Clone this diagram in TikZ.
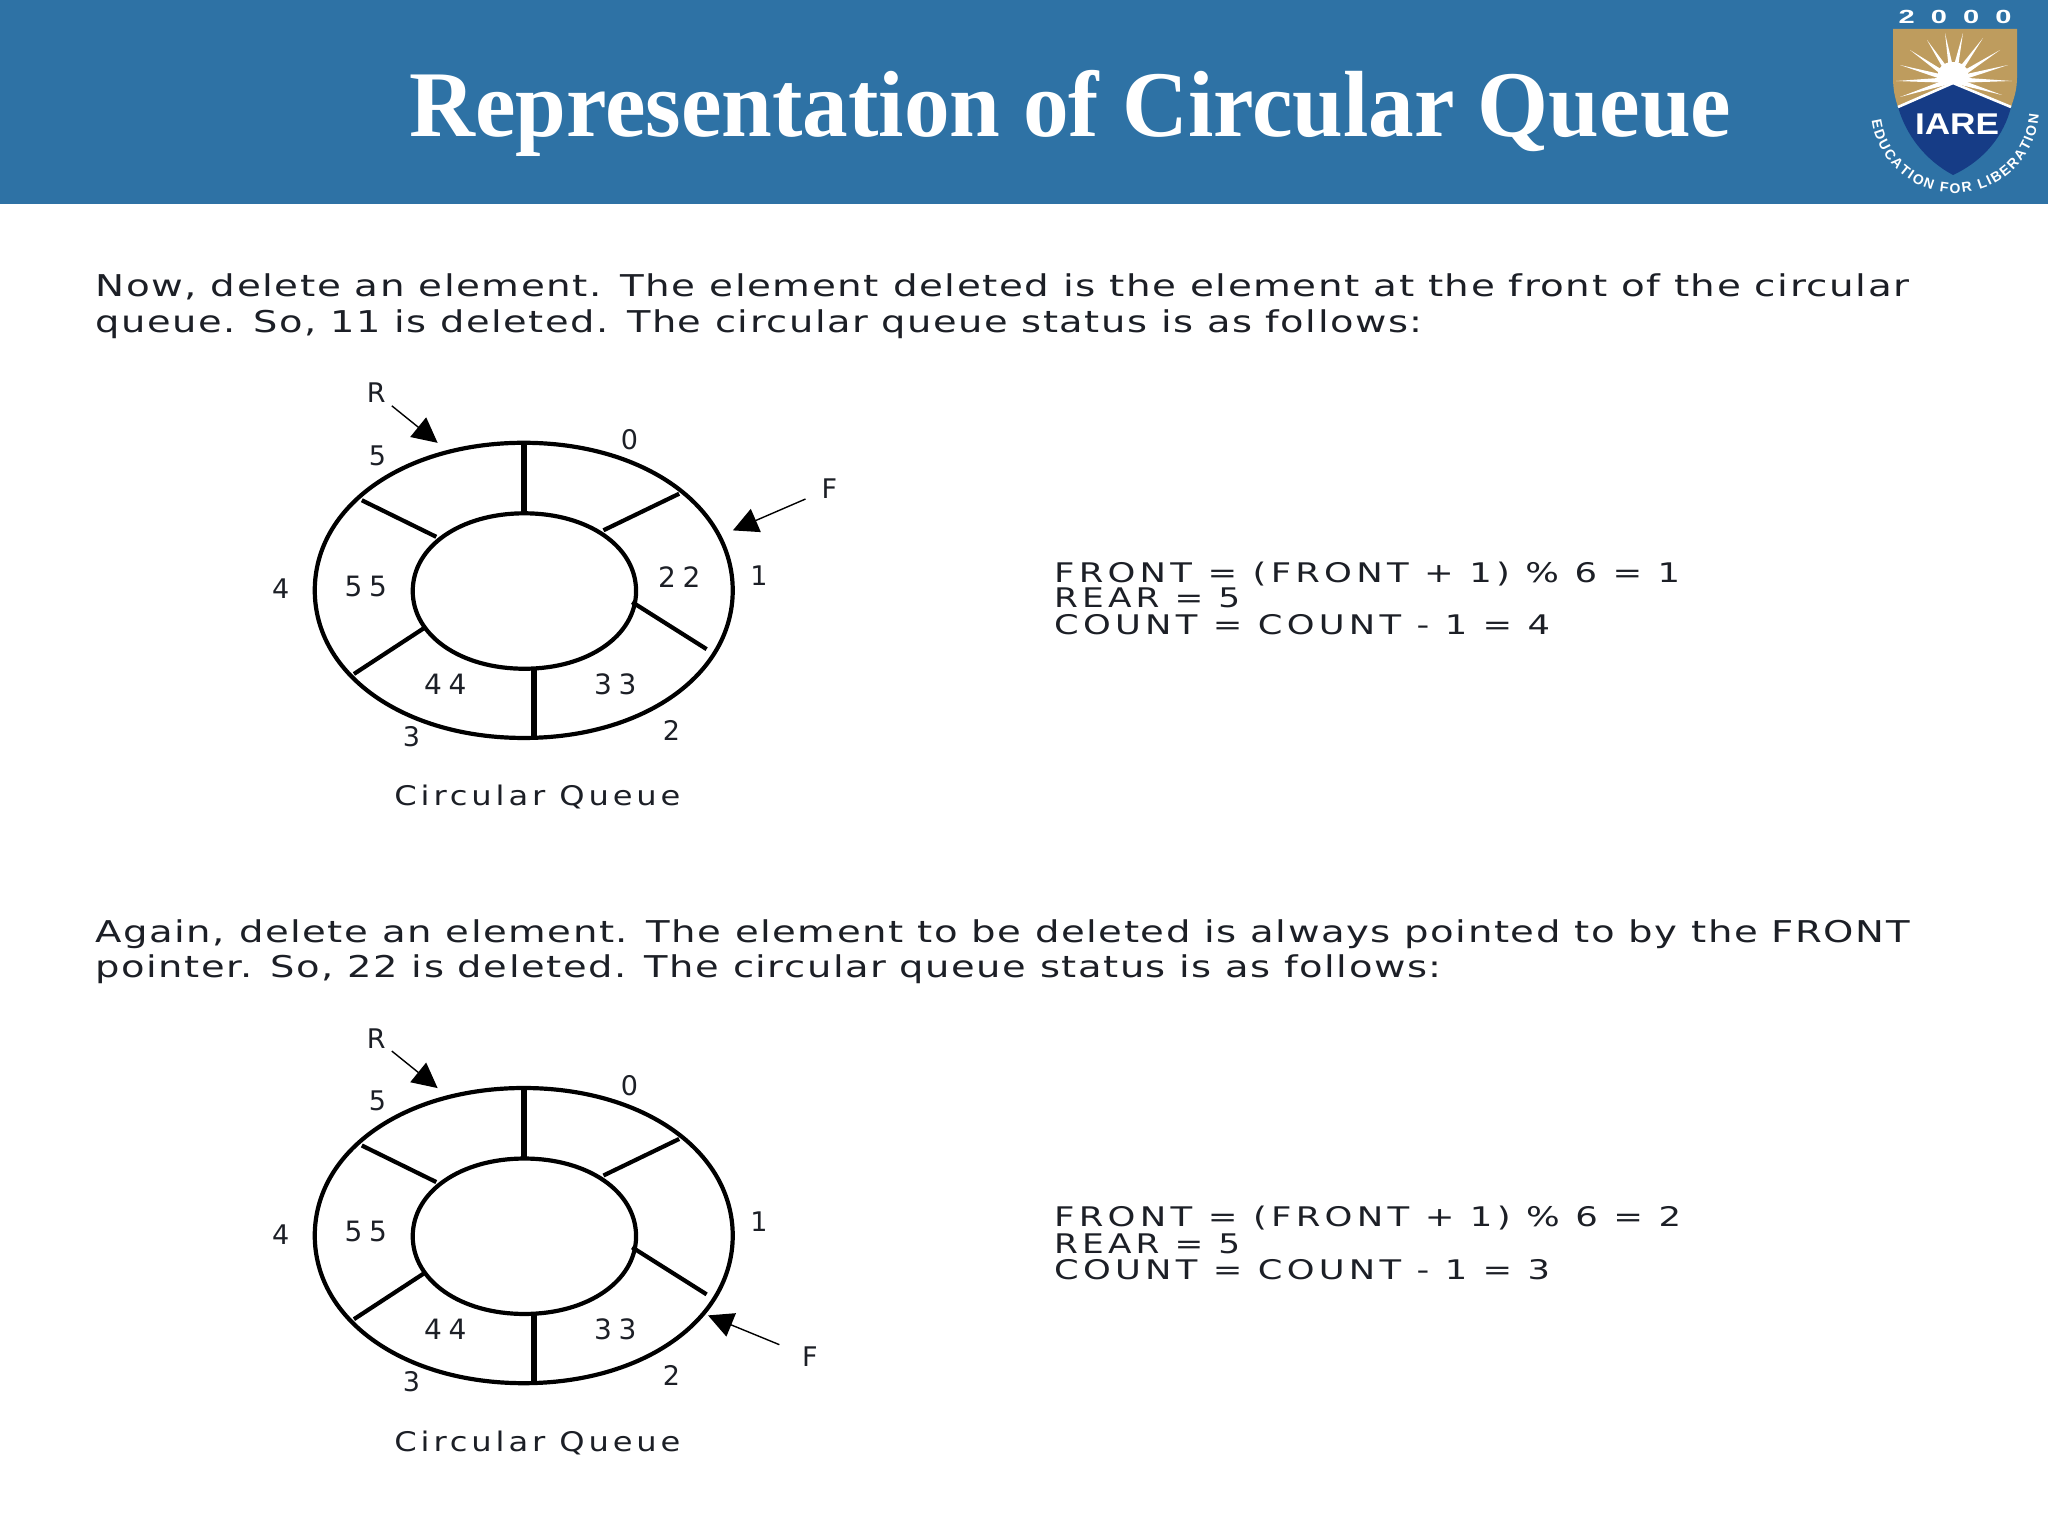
\documentclass[tikz,border=0pt]{standalone}
\usepackage{fontspec}
\usepackage{graphicx}
\usetikzlibrary{arrows.meta,calc,decorations.text}
\setmainfont{DejaVu Sans}
\newfontfamily\serifbold[Ligatures=TeX]{Liberation Serif}
\newfontfamily\logosans{Liberation Sans}
\newfontfamily\spacedfont[LetterSpace=24]{DejaVu Sans}
\newfontfamily\parafont[LetterSpace=4]{DejaVu Sans}
\newfontfamily\calcfont[LetterSpace=12,WordSpace=2.1]{DejaVu Sans}
\newfontfamily\capfont[LetterSpace=12,WordSpace=1.0]{DejaVu Sans}
\definecolor{banner}{HTML}{2E72A5}
\definecolor{gold}{HTML}{BE9C5E}
\definecolor{shieldblue}{HTML}{163C86}
\definecolor{ink}{HTML}{1C1F26}
\newcommand{\wline}[2]{\resizebox{#1pt}{\height}{#2}}
\tikzset{
  para/.style={anchor=base west,inner sep=0pt,text=ink,font=\fontsize{30}{30}\parafont},
  calc line/.style={anchor=base west,inner sep=0pt,text=ink,font=\fontsize{27}{27}\calcfont},
  ringlabel/.style={inner sep=0pt,text=ink,font=\fontsize{27}{27}\selectfont},
  vallabel/.style={inner sep=0pt,text=ink,font=\fontsize{28}{28}\spacedfont},
  ptr/.style={inner sep=6pt,text=ink,font=\fontsize{27}{27}\selectfont},
  ringline/.style={line width=4.2pt,black},
  spoke/.style={line width=4.2pt,black},
  spokev/.style={line width=5.6pt,black},
  pointer/.style={line width=1.4pt,black,-{Triangle[length=25pt,width=25pt]}},
  ray/.style={fill=white,draw=none},
}
% a slightly fuller oval than a true ellipse, as the reference has
\newcommand{\ringoval}[4]{%
  \draw[ringline] (#1-#3,#2) .. controls (#1-#3,#2-0.575*#4) and (#1-0.57*#3,#2-#4) .. (#1,#2-#4)
    .. controls (#1+0.57*#3,#2-#4) and (#1+#3,#2-0.575*#4) .. (#1+#3,#2)
    .. controls (#1+#3,#2+0.575*#4) and (#1+0.57*#3,#2+#4) .. (#1,#2+#4)
    .. controls (#1-0.57*#3,#2+#4) and (#1-#3,#2+0.575*#4) .. (#1-#3,#2) -- cycle;}
\newcommand{\ringbase}{%
  \ringoval{401}{452}{160}{113}
  \ringoval{401.5}{452.5}{85.5}{59.5}
  \draw[spokev] (401,339) -- (401,393);
  \draw[spokev] (409,512) -- (409,565);
  \draw[spoke] (520,378) -- (462,406);
  \draw[spoke] (484,461) -- (541,497);
  \draw[spoke] (326,480) -- (271,516);
  \draw[spoke] (277,383) -- (334,411);
  \node[ringlabel] (i0) at (482,337) {0};
  \node[ringlabel] (i1) at (581,441) {1};
  \node[ringlabel] (i2) at (514,559) {2};
  \node[ringlabel] (i3) at (315,564) {3};
  \node[ringlabel] (i4) at (215,451) {4};
  \node[ringlabel] (i5) at (289,349) {5};
  \node[vallabel] (v55) at (280,449) {55};
  \node[vallabel] (v44) at (341,524) {44};
  \node[vallabel] (v33) at (471,524) {33};
  \node[inner sep=0pt,text=ink,font=\fontsize{27}{27}\capfont] (cap) at (411.5,610.5) {\wline{286}{Circular Queue}};
  \node[ptr] (R) at (288,301) {R};
  \coordinate (Rtip) at (335,339);
  \draw[pointer] (R) -- (Rtip);
}
\begin{document}
\begin{tikzpicture}[x=1pt,y=-1pt]
\useasboundingbox (0,0) rectangle (2048,1536);
\fill[white] (0,0) rectangle (2048,1536);
\fill[banner] (0,0) rectangle (2048,204);
\node[anchor=base west,inner sep=0pt,text=white] (title) at (409,137)
  {\wline{1322}{\fontsize{94}{100}\serifbold\bfseries Representation of Circular Queue}};
% logo
\fill[gold] (1893,29) -- (2017,29) -- (2017,77) .. controls (2017,90) and (2014,98) .. (2011,107) -- (1953,83) -- (1898,107) .. controls (1895,98) and (1893,90) .. (1893,77) -- cycle;
\fill[shieldblue] (1898,107) -- (1953,83) -- (2011,107) .. controls (2004,135) and (1985,160) .. (1953,175) .. controls (1925,160) and (1906,135) .. (1898,107) -- cycle;
\coordinate (sun) at (1953,80);
\foreach \tx/\ty in {1945/33,1963/33,1927/40,1983/38,1910/50,2000/50,1900/65,2008/65,1896/81,2012/81,1900/97,2002/95}{
  \coordinate (tip) at (\tx,\ty);
  \fill[ray] ($(sun)!3pt!90:(tip)$) -- (tip) -- ($(sun)!3pt!-90:(tip)$) -- cycle;
}
\fill[white] (1953,73) ellipse [x radius=15,y radius=11];
\fill[white] (1935,82) -- (1953,68) -- (1971,82) -- (1953,83) -- cycle;
\draw[white,line width=2.6pt] (1898,107) -- (1953,83) -- (2011,107);
\node[inner sep=0pt,text=white] (year) at (1955,17) {\wline{113}{\fontsize{19}{20}\selectfont\logosans\bfseries 2\ \ 0\ \ 0\ \ 0}};
\node[inner sep=0pt,text=white] (iare) at (1957,124) {\wline{84}{\fontsize{30}{30}\selectfont\logosans\bfseries IARE}};
\path[decorate,decoration={text along path,text align={fit to path},
  text={|\fontsize{14}{15}\selectfont\logosans\bfseries\color{white}|EDUCATION FOR LIBERATION}}]
  (1955,109) ++(172:84) arc [start angle=172,end angle=4,radius=84];
% first block
\node[para] (p1) at (95.3,296.5) {\wline{1814}{Now, delete an element. The element deleted is the element at the front of the circular}};
\node[para] (p2) at (95.3,332) {\wline{1327}{queue. So, 11 is deleted. The circular queue status is as follows:}};
\begin{scope}[scale=1.30612,name prefix=a-]
  \ringbase
  \node[vallabel] (v22) at (520,442) {22};
  \node[ptr] (F) at (635,374) {F};
  \coordinate (Ftip) at (561,406);
  \draw[pointer,shorten <=11pt] (F) -- (Ftip);
\end{scope}
\node[calc line] (c1) at (1054,582) {\wline{626}{FRONT = (FRONT + 1) \% 6 = 1}};
\node[calc line] (c2) at (1054,607.5) {\wline{186}{REAR = 5}};
\node[calc line] (c3) at (1054,634) {\wline{496}{COUNT = COUNT - 1 = 4}};
% second block
\node[para] (p3) at (95.3,942.5) {\wline{1814}{Again, delete an element. The element to be deleted is always pointed to by the FRONT}};
\node[para] (p4) at (95.3,977) {\wline{1346}{pointer. So, 22 is deleted. The circular queue status is as follows:}};
\begin{scope}[scale=1.30612,shift={(0,494)},name prefix=b-]
  \ringbase
  \node[ptr] (F) at (620,545) {F};
  \coordinate (Ftip) at (542,513);
  \draw[pointer,shorten <=18pt] (F) -- (Ftip);
\end{scope}
\node[calc line] (d1) at (1054,1226) {\wline{627}{FRONT = (FRONT + 1) \% 6 = 2}};
\node[calc line] (d2) at (1054,1253) {\wline{186}{REAR = 5}};
\node[calc line] (d3) at (1054,1279) {\wline{496}{COUNT = COUNT - 1 = 3}};
\end{tikzpicture}
\end{document}
